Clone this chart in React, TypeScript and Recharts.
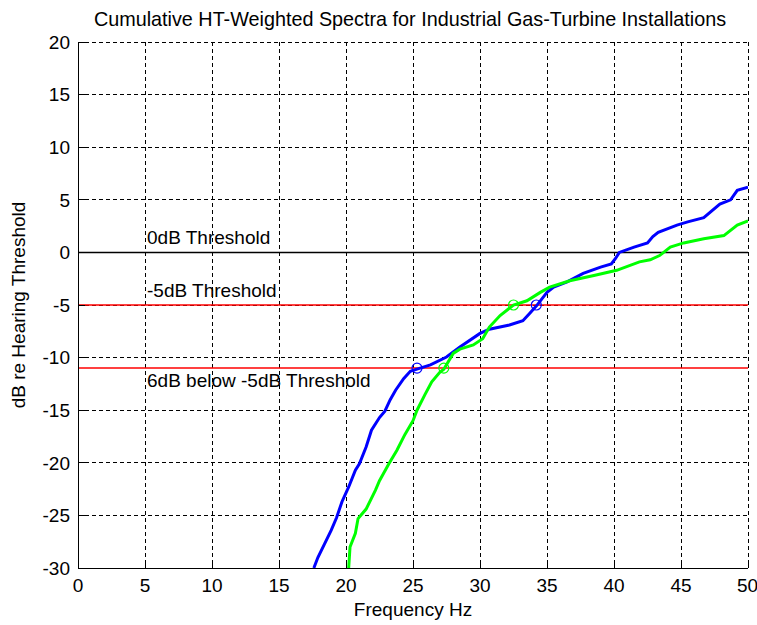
import React from 'react';
import {
  ComposedChart,
  Line,
  XAxis,
  YAxis,
  CartesianGrid,
  ReferenceLine,
  ReferenceDot,
  Customized,
} from 'recharts';

const xTicks = [0, 5, 10, 15, 20, 25, 30, 35, 40, 45, 50];
const yTicks = [-30, -25, -20, -15, -10, -5, 0, 5, 10, 15, 20];

const blueFreq = [17.6, 17.9, 18.4, 18.9, 19.3, 19.7, 20.2, 20.7, 21.0, 21.5, 21.9, 22.5, 22.9, 23.3, 23.7, 24.3, 24.8, 25.3, 26.3, 27.5, 28.5, 30.0, 30.7, 32.2, 33.2, 33.7, 34.2, 35.0, 35.5, 36.5, 37.7, 39.0, 39.8, 40.1, 40.4, 41.5, 42.5, 42.9, 43.3, 44.7, 45.5, 46.7, 47.9, 48.7, 49.2, 50.0];
const blueDb = [-30, -29.0, -27.7, -26.4, -25.2, -23.7, -22.3, -20.7, -20.1, -18.5, -16.9, -15.7, -15.1, -14.0, -13.1, -12.0, -11.3, -11.1, -10.7, -9.95, -9.0, -7.7, -7.3, -6.9, -6.5, -5.8, -5.1, -3.8, -3.3, -2.8, -2.0, -1.4, -1.1, -0.6, 0.0, 0.5, 0.9, 1.5, 1.9, 2.6, 2.9, 3.3, 4.6, 5.0, 5.9, 6.2];

const greenFreq = [20.2, 20.3, 20.7, 20.9, 21.5, 22.2, 22.5, 23.2, 23.8, 24.4, 25.0, 25.3, 25.9, 26.4, 27.0, 27.3, 28.0, 28.5, 29.5, 30.2, 30.7, 31.5, 32.5, 33.5, 34.5, 35.2, 36.7, 38.5, 40.2, 41.9, 42.7, 43.4, 44.2, 45.2, 46.7, 48.2, 49.2, 50.0];
const greenDb = [-30, -28.0, -26.7, -25.3, -24.4, -22.6, -21.7, -20.1, -18.8, -17.3, -16.0, -15.0, -13.5, -12.3, -11.4, -11.1, -9.6, -9.2, -8.8, -8.2, -7.1, -6.0, -5.0, -4.6, -3.8, -3.3, -2.7, -2.2, -1.7, -0.9, -0.7, -0.3, 0.5, 0.9, 1.3, 1.6, 2.6, 3.0];

const blueMarkFreq = [25.3, 34.2];
const blueMarkDb = [-11, -5];
const greenMarkFreq = [27.3, 32.5];
const greenMarkDb = [-11, -5];

const thresholdDb = [0, -5, -11];
const thresholdLabels = ['0dB Threshold', '-5dB Threshold', '6dB below -5dB Threshold'];
const thresholdColors = ['#000000', '#ff0000', '#ff0000'];

const titleText = 'Cumulative HT-Weighted Spectra for Industrial Gas-Turbine Installations';
const xLabelText = 'Frequency Hz';
const yLabelText = 'dB re Hearing Threshold';

const blueData = blueFreq.map((x, i) => ({ x, y: blueDb[i] }));
const greenData = greenFreq.map((x, i) => ({ x, y: greenDb[i] }));

const FONT = '"Liberation Sans", Arial, Helvetica, sans-serif';
const FS = 19;

const Texts = () => (
  <g style={{ fontFamily: FONT }}>
    <text x={410} y={19} textAnchor="middle" dy="0.35em" fontSize={19.8} fill="#000">
      {titleText}
    </text>
    <text x={413} y={609} textAnchor="middle" dy="0.35em" fontSize={FS} fill="#000">
      {xLabelText}
    </text>
    <text
      x={18}
      y={305}
      textAnchor="middle"
      dy="0.35em"
      fontSize={FS}
      fill="#000"
      transform="rotate(-90 18 305)"
    >
      {yLabelText}
    </text>
  </g>
);

const makeLabel = (text: string, above: boolean) => (props: any) => {
  const vb = props.viewBox || {};
  const x = vb.x + vb.width * 0.1 + 2;
  const y = above ? vb.y - 8 : vb.y + 19;
  return (
    <text x={x} y={y} fontSize={FS} fill="#000" style={{ fontFamily: FONT }}>
      {text}
    </text>
  );
};

export default function App() {
  const tickStyle = { fill: '#000', fontSize: FS, fontFamily: FONT };
  return (
    <div style={{ position: 'absolute', left: 0, top: 0, width: 757, height: 625, background: '#fff' }}>
      <ComposedChart
        width={757}
        height={625}
        margin={{ top: 42, right: 9, bottom: 0, left: 0 }}
        style={{ fontFamily: FONT }}
      >
        <CartesianGrid stroke="#000" strokeDasharray="4 3" strokeWidth={1} shapeRendering="crispEdges" />
        <XAxis
          dataKey="x"
          type="number"
          domain={[0, 50]}
          ticks={xTicks}
          allowDataOverflow
          height={57}
          tickSize={-7}
          tickMargin={18}
          tick={tickStyle}
          stroke="#000"
          axisLine={{ stroke: '#000', shapeRendering: 'crispEdges' }}
          tickLine={{ stroke: '#000', shapeRendering: 'crispEdges' }}
        />
        <XAxis
          xAxisId="top"
          orientation="top"
          type="number"
          domain={[0, 50]}
          ticks={xTicks}
          height={0}
          tickSize={-7}
          tickFormatter={() => ''}
          axisLine={{ stroke: '#000', shapeRendering: 'crispEdges' }}
          tickLine={{ stroke: '#000', shapeRendering: 'crispEdges' }}
        />
        <YAxis
          type="number"
          domain={[-30, 20]}
          ticks={yTicks}
          allowDataOverflow
          width={78}
          tickSize={-7}
          tickMargin={15}
          tick={tickStyle}
          axisLine={{ stroke: '#000', shapeRendering: 'crispEdges' }}
          tickLine={{ stroke: '#000', shapeRendering: 'crispEdges' }}
        />
        <YAxis
          yAxisId="right"
          orientation="right"
          type="number"
          domain={[-30, 20]}
          ticks={yTicks}
          width={0}
          tickSize={-7}
          tickFormatter={() => ''}
          axisLine={{ stroke: '#000', shapeRendering: 'crispEdges' }}
          tickLine={{ stroke: '#000', shapeRendering: 'crispEdges' }}
        />
        {thresholdDb.map((v, i) => (
          <ReferenceLine
            key={'t' + i}
            y={v}
            stroke={thresholdColors[i]}
            strokeWidth={1.5}
            label={makeLabel(thresholdLabels[i], i < 2)}
          />
        ))}
        <Line
          data={blueData}
          dataKey="y"
          type="linear"
          stroke="#0000ff"
          strokeWidth={3}
          dot={false}
          isAnimationActive={false}
        />
        <Line
          data={greenData}
          dataKey="y"
          type="linear"
          stroke="#00ff00"
          strokeWidth={3}
          dot={false}
          isAnimationActive={false}
        />
        {blueMarkFreq.map((f, i) => (
          <ReferenceDot key={'b' + i} x={f} y={blueMarkDb[i]} r={5} fill="none" stroke="#0000ff" strokeWidth={1.2} />
        ))}
        {greenMarkFreq.map((f, i) => (
          <ReferenceDot key={'g' + i} x={f} y={greenMarkDb[i]} r={5} fill="none" stroke="#00ff00" strokeWidth={1.2} />
        ))}
        <Customized component={Texts} />
      </ComposedChart>
    </div>
  );
}
